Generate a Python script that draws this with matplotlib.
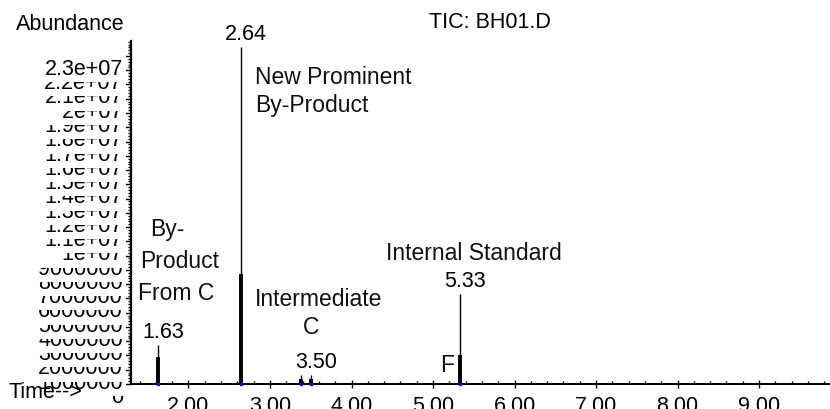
import matplotlib
matplotlib.use("Agg")
import matplotlib.pyplot as plt
from matplotlib.transforms import ScaledTranslation

# Retention times (min) and abundances of the detected peaks
peak_times = [1.63, 2.64, 3.38, 3.50, 5.33]
peak_heights = [2.73e6, 23.6e6, 0.63e6, 0.63e6, 6.3e6]
# abundance up to which each peak is drawn with its wide base
base_heights = [1.9e6, 7.7e6, 0.35e6, 0.35e6, 2.0e6]
labelled_times = [1.63, 2.64, 3.50, 5.33]

y_tick_values = [i * 1e6 for i in range(24)]
y_tick_labels = ["0", "1000000", "2000000", "3000000", "4000000", "5000000",
                 "6000000", "7000000", "8000000", "9000000", "1e+07",
                 "1.1e+07", "1.2e+07", "1.3e+07", "1.4e+07", "1.5e+07",
                 "1.6e+07", "1.7e+07", "1.8e+07", "1.9e+07", "2e+07",
                 "2.1e+07", "2.2e+07", "2.3e+07"]
x_tick_values = [2, 3, 4, 5, 6, 7, 8, 9]
x_tick_labels = ["2.00", "3.00", "4.00", "5.00", "6.00", "7.00", "8.00", "9.00"]

FONT = "Liberation Sans"
FS = 15.5
FS_NAME = 16.5

fig = plt.figure(figsize=(8.3, 4.1), dpi=100)
ax = fig.add_axes([131 / 830, 25 / 410, 699 / 830, 343 / 410])
ax.set_xlim(1.295, 9.87)
ax.set_ylim(0, 24.05e6)

for s in ("top", "right"):
    ax.spines[s].set_visible(False)
ax.spines["left"].set_linewidth(1.6)
ax.spines["bottom"].set_linewidth(1.4)

# peaks: narrow apex line plus a wider base
ax.vlines(peak_times, 0, peak_heights, color="black", linewidth=1.0)
ax.vlines(peak_times, 0, base_heights, color="black", linewidth=2.8)
ax.plot(peak_times, [0] * len(peak_times), "s", color="#1010c0",
        markersize=2, clip_on=False, zorder=5)

# retention-time labels above the apexes
for t in labelled_times:
    h = peak_heights[peak_times.index(t)]
    ax.annotate(f"{t:.2f}", (t, h), xytext=(3.6, 10), textcoords="offset points",
                ha="center", va="center", fontsize=FS, family=FONT, color="black")

# compound names
tc = "#111111"
kw = dict(va="center", fontsize=FS_NAME, family=FONT, color=tc)
ax.text(2.816, 21.53e6, "New Prominent", ha="left", **kw)
ax.text(2.816, 19.57e6, "By-Product", ha="left", **kw)
ax.text(1.528, 10.87e6, "By-", ha="left", **kw)
ax.text(1.405, 8.63e6, "Product", ha="left", **kw)
ax.text(1.380, 6.45e6, "From C", ha="left", **kw)
ax.text(2.816, 5.96e6, "Intermediate", ha="left", **kw)
ax.text(3.503, 4.0e6, "C", ha="center", **kw)
ax.text(5.172, 1.40e6, "F", ha="center", **kw)
ax.text(5.503, 9.19e6, "Internal Standard", ha="center", **kw)

# y axis: densely packed labels, each one hiding the top of the one below
padded = [("    " + s) if len(s) == 5 else s for s in y_tick_labels]
ax.set_yticks(y_tick_values, padded)
ax.yaxis.set_minor_locator(matplotlib.ticker.MultipleLocator(2e5))
ax.tick_params(axis="y", which="major", direction="out", length=4, width=1, pad=3,
               labelsize=FS)
ax.tick_params(axis="y", which="minor", direction="out", length=2.5, width=1)
shift = ScaledTranslation(1.5 / 100, -10 / 100, fig.dpi_scale_trans)
for lbl in ax.get_yticklabels():
    lbl.set_fontfamily(FONT)
    lbl.set_bbox(dict(boxstyle="square,pad=0.15", facecolor="white", edgecolor="none"))
    lbl.set_transform(lbl.get_transform() + shift)

ax.set_xticks(x_tick_values, x_tick_labels)
ax.xaxis.set_minor_locator(matplotlib.ticker.MultipleLocator(0.2))
ax.tick_params(axis="x", which="major", direction="inout", length=6, width=1, pad=5,
               labelsize=FS)
ax.tick_params(axis="x", which="minor", direction="in", length=2.5, width=1)
for lbl in ax.get_xticklabels():
    lbl.set_fontfamily(FONT)

fig.text(70 / 830, 1 - 25 / 410, "Abundance", ha="center", va="center", fontsize=FS, family=FONT)
fig.text(490 / 830, 1 - 23 / 410, "TIC: BH01.D", ha="center", va="center", fontsize=FS, family=FONT)
fig.text(45 / 830, 1 - 393 / 410, "Time-->", ha="center", va="center", fontsize=FS, family=FONT)

fig.savefig("out.png", dpi=100)
